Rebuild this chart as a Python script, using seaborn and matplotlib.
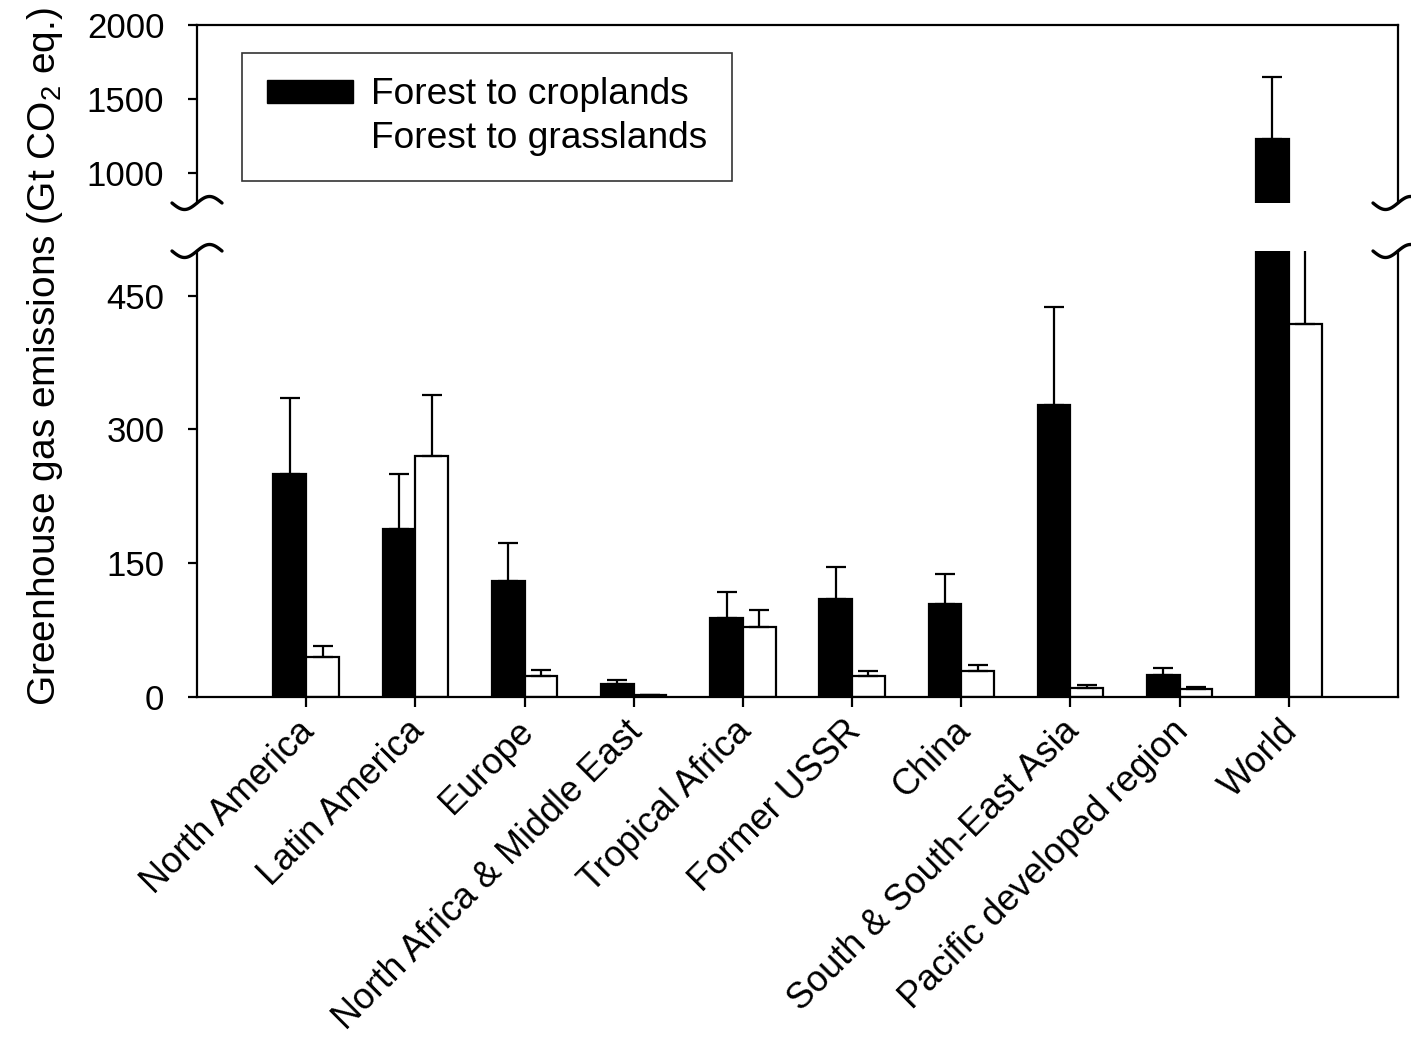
import numpy as np
import pandas as pd
import matplotlib
matplotlib.use("Agg")
import matplotlib.pyplot as plt
import matplotlib.transforms as mtransforms
from matplotlib.lines import Line2D
from matplotlib.patches import Patch
import seaborn as sns

categories = ['North America', 'Latin America', 'Europe', 'North Africa & Middle East',
              'Tropical Africa', 'Former USSR', 'China', 'South & South-East Asia',
              'Pacific developed region', 'World']
series_names = ['Forest to croplands', 'Forest to grasslands']
croplands = [250, 188, 130, 15, 89, 110, 104, 327, 25, 1230]
croplands_err = [85, 62, 43, 4, 29, 36, 34, 110, 8, 419]
grasslands = [45, 270, 24, 2, 78, 23, 29, 10.5, 9.3, 418]
grasslands_err = [12, 69, 6, 0.5, 20, 6, 7, 2.5, 2, 282]
top_ticks = [1000, 1500, 2000]
bottom_ticks = [0, 150, 300, 450]

sns.set_theme(style='white')
plt.rcParams['font.family'] = ['Liberation Sans', 'DejaVu Sans']
plt.rcParams['mathtext.fontset'] = 'custom'
plt.rcParams['mathtext.rm'] = 'Liberation Sans'
for k in ('text.color', 'axes.labelcolor', 'xtick.color', 'ytick.color'):
    plt.rcParams[k] = 'black'

df = pd.DataFrame({
    'region': categories * 2,
    'value': croplands + grasslands,
    'series': [series_names[0]] * len(categories) + [series_names[1]] * len(categories),
})

W, H = 1411, 1041
fig = plt.figure(figsize=(W / 100, H / 100), dpi=100)
left = 197 / W
width = (1398 - 197) / W
ax_top = fig.add_axes([left, 1 - 203 / H, width, (203 - 25) / H])
ax_bot = fig.add_axes([left, 1 - 697 / H, width, (697 - 251) / H])

lw = 1.6
for ax in (ax_top, ax_bot):
    sns.barplot(data=df, x='region', y='value', hue='series', order=categories,
                hue_order=series_names, palette=['black', 'white'], width=0.6,
                edgecolor='black', linewidth=lw, errorbar=None, legend=False, ax=ax,
                saturation=1)
    xs = np.arange(len(categories))
    ax.errorbar(xs - 0.15, croplands, yerr=[np.zeros(len(categories)), croplands_err],
                fmt='none', ecolor='black', elinewidth=lw, capsize=7, capthick=lw, zorder=1)
    ax.errorbar(xs + 0.15, grasslands, yerr=[np.zeros(len(categories)), grasslands_err],
                fmt='none', ecolor='black', elinewidth=lw, capsize=7, capthick=lw, zorder=1)
    ax.set_xlim(-1, 10)
    ax.set_xlabel('')
    ax.set_ylabel('')
    for s in ax.spines.values():
        s.set_color('black')
        s.set_linewidth(lw)
    ax.tick_params(axis='y', which='both', left=True, right=False, direction='out',
                   length=6.5, width=lw, labelsize=25, pad=17, color='black')

ax_top.set_ylim(800, 2000)
ax_top.set_yticks(top_ticks)
ax_top.set_yticklabels([str(t) for t in top_ticks])
ax_top.spines['bottom'].set_visible(False)
ax_top.tick_params(axis='x', bottom=False, labelbottom=False)

ax_bot.set_ylim(0, 500)
ax_bot.set_yticks(bottom_ticks)
ax_bot.set_yticklabels([str(t) for t in bottom_ticks])
ax_bot.spines['top'].set_visible(False)
ax_bot.set_xticks(np.arange(len(categories)))
ax_bot.set_xticklabels(categories, rotation=45, ha='right', rotation_mode='anchor')
ax_bot.tick_params(axis='x', bottom=True, direction='out', length=7, width=lw,
                   labelsize=26, pad=5, color='black')
shift = mtransforms.ScaledTranslation(-9 / 100, 0, fig.dpi_scale_trans)
for lab in ax_bot.get_xticklabels():
    lab.set_transform(lab.get_transform() + shift)

# break marks
def break_mark(xf, yf):
    t = np.linspace(-1, 1, 80)
    xs = xf + t * 25 / W
    ys = yf + 6.5 * np.sin(np.pi * t) / H
    fig.add_artist(Line2D(xs, ys, color='black', lw=2.4, transform=fig.transFigure,
                          solid_capstyle='round'))

ptop = ax_top.get_position()
pbot = ax_bot.get_position()
for xf in (ptop.x0, ptop.x1):
    break_mark(xf, ptop.y0)
    break_mark(xf, pbot.y1)

handles = [Patch(facecolor='black', edgecolor='black'),
           Patch(facecolor='none', edgecolor='none')]
leg = ax_top.legend(handles, series_names, loc='upper left',
                    bbox_to_anchor=(0.0375, 0.843), borderaxespad=0,
                    fontsize=26.7, frameon=True, fancybox=False, handlelength=2.32,
                    handleheight=0.57, handletextpad=0.5, borderpad=0.66,
                    labelspacing=0.24)
leg.get_frame().set_edgecolor('black')
leg.get_frame().set_linewidth(1.2)

fig.text(45 / W, 1 - 357 / H, r'Greenhouse gas emissions (Gt CO$_{\mathregular{2}}$ eq.)',
         rotation=90, ha='center', va='center', fontsize=28)

fig.savefig('out.png', dpi=100, facecolor='white')
